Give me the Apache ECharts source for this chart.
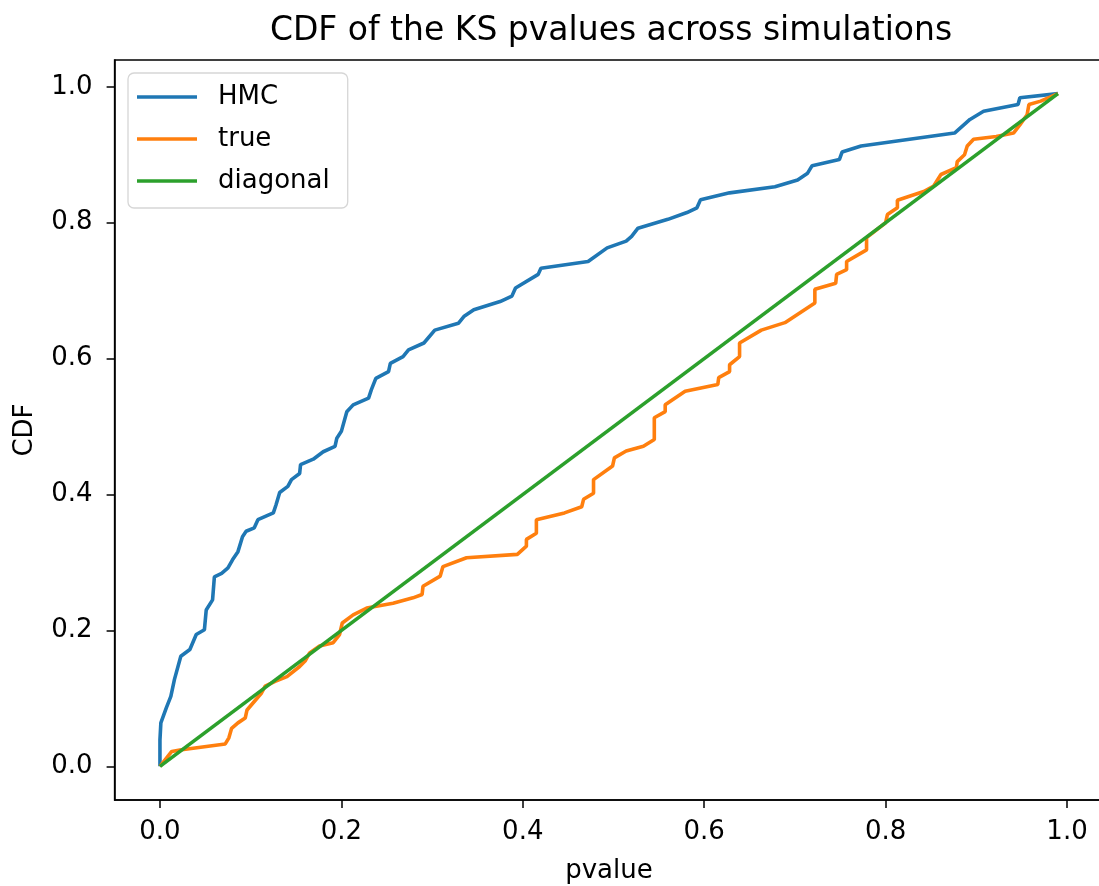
<!DOCTYPE html>
<html>
<head>
<meta charset="utf-8">
<script src="https://cdn.jsdelivr.net/npm/echarts@6/dist/echarts.min.js"></script>
<style>
html,body{margin:0;padding:0;background:#fff;}
#chart{width:1099px;height:886px;}
</style>
</head>
<body>
<div id="chart"></div>
<script>
// ---- data ----
var hmcP = [0,0,0.001,0.007,0.012,0.016,0.023,0.033,0.040,0.049,0.051,0.058,0.060,0.068,0.075,0.080,0.086,0.091,0.095,0.104,0.108,0.125,0.128,0.132,0.141,0.145,0.154,0.155,0.169,0.180,0.193,0.195,0.200,0.206,0.213,0.230,0.233,0.238,0.252,0.254,0.268,0.274,0.291,0.303,0.329,0.335,0.346,0.375,0.388,0.392,0.417,0.420,0.472,0.493,0.514,0.520,0.527,0.560,0.581,0.592,0.596,0.628,0.678,0.703,0.714,0.719,0.749,0.752,0.773,0.876,0.893,0.908,0.946,0.948,0.990];
var hmcCdf = [0,0.039,0.064,0.086,0.103,0.128,0.162,0.172,0.194,0.201,0.230,0.245,0.279,0.284,0.292,0.304,0.316,0.338,0.346,0.351,0.363,0.373,0.385,0.403,0.412,0.422,0.431,0.444,0.452,0.463,0.471,0.483,0.493,0.522,0.532,0.542,0.554,0.571,0.581,0.593,0.603,0.613,0.623,0.642,0.652,0.662,0.672,0.684,0.692,0.704,0.724,0.733,0.743,0.763,0.773,0.780,0.792,0.805,0.815,0.822,0.834,0.844,0.853,0.863,0.873,0.884,0.893,0.904,0.913,0.932,0.952,0.964,0.974,0.984,0.990];

var trueP = [0,0.013,0.022,0.072,0.076,0.079,0.086,0.094,0.096,0.112,0.116,0.127,0.140,0.154,0.160,0.165,0.176,0.191,0.198,0.201,0.213,0.228,0.257,0.279,0.289,0.290,0.309,0.312,0.338,0.394,0.404,0.404,0.415,0.415,0.446,0.465,0.467,0.478,0.478,0.499,0.501,0.514,0.533,0.545,0.545,0.557,0.557,0.579,0.615,0.616,0.628,0.628,0.639,0.639,0.663,0.689,0.722,0.722,0.745,0.746,0.757,0.757,0.779,0.779,0.800,0.802,0.813,0.813,0.842,0.853,0.861,0.878,0.879,0.887,0.890,0.897,0.922,0.941,0.948,0.956,0.958,0.971,0.990];
var trueCdf = [0,0.022,0.024,0.033,0.042,0.056,0.064,0.071,0.083,0.108,0.118,0.125,0.132,0.147,0.155,0.167,0.177,0.182,0.194,0.211,0.223,0.233,0.240,0.248,0.253,0.265,0.280,0.294,0.307,0.312,0.324,0.334,0.343,0.363,0.373,0.382,0.393,0.402,0.422,0.442,0.454,0.464,0.471,0.481,0.513,0.522,0.532,0.552,0.562,0.572,0.581,0.591,0.603,0.623,0.642,0.653,0.682,0.702,0.711,0.724,0.731,0.743,0.760,0.778,0.800,0.812,0.822,0.833,0.846,0.854,0.871,0.881,0.890,0.900,0.913,0.923,0.927,0.932,0.944,0.959,0.974,0.979,0.990];

var diagP = [0,0.99];
var diagCdf = [0,0.99];

var xTicks = [0,0.2,0.4,0.6,0.8,1.0];
var yTicks = [0,0.2,0.4,0.6,0.8,1.0];

var seriesNames = ['HMC','true','diagonal'];
var colors = ['#1f77b4','#ff7f0e','#2ca02c'];

function zip(a,b){ var r=[]; for(var i=0;i<a.length;i++) r.push([a[i],b[i]]); return r; }

var FONT = 'DejaVu Sans';
var chart = echarts.init(document.getElementById('chart'), null, {renderer:'canvas'});

function mkSeries(name, data, color){
  return {name:name, type:'line', data:data, symbol:'none', showSymbol:false,
    lineStyle:{color:color, width:3.6}, itemStyle:{color:color}, z:2, silent:true};
}

var option = {
  animation:false,
  backgroundColor:'#fff',
  color:colors,
  title:{
    text:'CDF of the KS pvalues across simulations',
    left:611, top:15, padding:0, textAlign:'center',
    textStyle:{fontFamily:FONT, fontSize:33, fontWeight:'normal', color:'#000'}
  },
  legend:{
    orient:'vertical', left:128, top:73,
    padding:[9,18,12,9],
    itemWidth:60, itemHeight:3.6, itemGap:12, icon:'rect',
    backgroundColor:'rgba(255,255,255,0.8)', borderColor:'#d6d6d6', borderWidth:1.3, borderRadius:6,
    textStyle:{fontFamily:FONT, fontSize:26, color:'#000', lineHeight:30, padding:[0,0,0,16]},
    data:seriesNames
  },
  grid:{left:114.6, top:60, width:988.7, height:740, show:true, borderColor:'#000', borderWidth:1.5,
    backgroundColor:'transparent', containLabel:false, outerBoundsMode:'none'},
  xAxis:{
    type:'value', min:-0.05, max:1.04,
    name:'pvalue', nameLocation:'middle', nameGap:58,
    nameTextStyle:{fontFamily:FONT, fontSize:26, color:'#000'},
    axisLine:{show:true, onZero:false, lineStyle:{color:'#000', width:1.5}},
    axisTick:{show:true, length:8, lineStyle:{color:'#000', width:1.5}, customValues:xTicks},
    axisLabel:{fontFamily:FONT, fontSize:26, color:'#000', margin:19, customValues:xTicks,
      formatter:function(v){return v.toFixed(1);}},
    splitLine:{show:false}
  },
  yAxis:{
    type:'value', min:-0.0495, max:1.0395,
    name:'CDF', nameLocation:'middle', nameGap:76, nameRotate:90,
    nameTextStyle:{fontFamily:FONT, fontSize:26, color:'#000'},
    axisLine:{show:true, onZero:false, lineStyle:{color:'#000', width:1.5}},
    axisTick:{show:true, length:8, lineStyle:{color:'#000', width:1.5}, customValues:yTicks},
    axisLabel:{fontFamily:FONT, fontSize:26, color:'#000', margin:22, customValues:yTicks,
      formatter:function(v){return v.toFixed(1);}},
    splitLine:{show:false}
  },
  series:[
    mkSeries(seriesNames[0], zip(hmcP,hmcCdf), colors[0]),
    mkSeries(seriesNames[1], zip(trueP,trueCdf), colors[1]),
    mkSeries(seriesNames[2], zip(diagP,diagCdf), colors[2])
  ]
};
chart.setOption(option);
</script>
</body>
</html>
